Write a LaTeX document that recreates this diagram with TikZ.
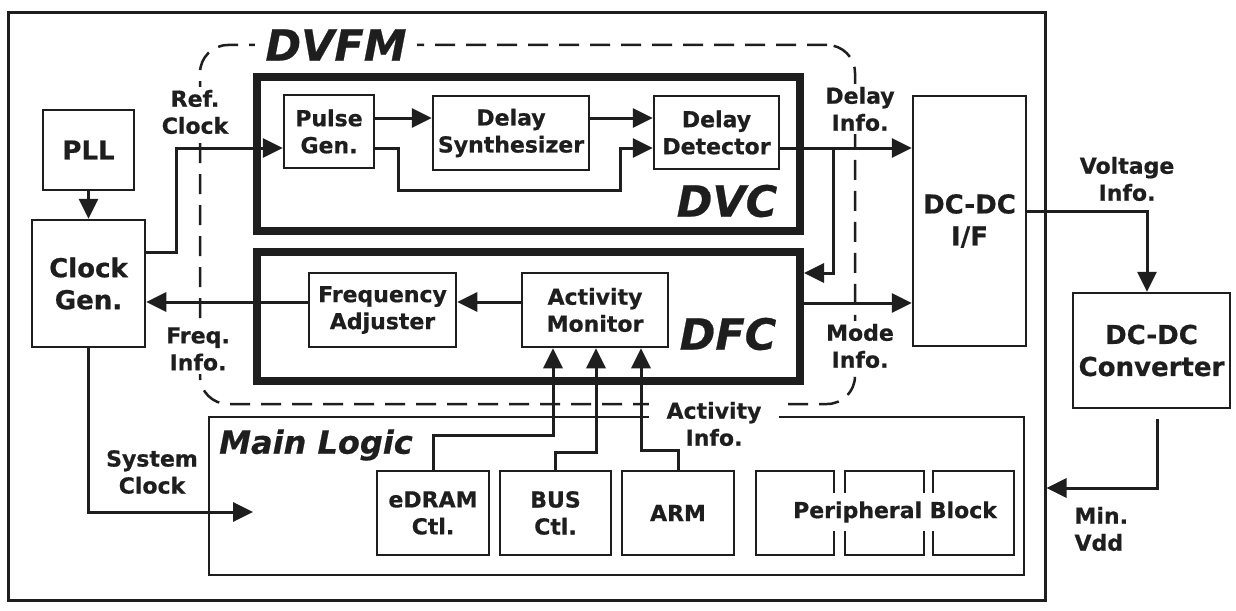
\documentclass[tikz,border=0pt]{standalone}
\usepackage{fontspec}
\setmainfont{DejaVu Sans}[BoldFeatures={FakeBold=0.6},BoldItalicFeatures={FakeBold=0.6}]
\usetikzlibrary{arrows.meta}
\definecolor{ink}{RGB}{30,30,30}
\newcommand\fnormal{\fontsize{22}{27}\selectfont\bfseries}
\newcommand\fbig{\fontsize{26}{32}\selectfont\bfseries}
\newcommand\ftitle{\fontsize{43}{50}\selectfont\bfseries\itshape}
\newcommand\fmain{\fontsize{32}{38}\selectfont\bfseries\itshape}
\begin{document}
\begin{tikzpicture}[x=1pt,y=-1pt,
  every node/.style={text=ink},
  blk/.style={draw=ink, line width=2.5pt, inner sep=0pt, align=center, font=\fnormal},
  heavy/.style={draw=ink, line width=8pt, inner sep=0pt},
  conn/.style={draw=ink, line width=3pt},
  arr/.style={conn, -{Triangle[length=20pt,width=19pt]}},
  tag/.style={align=center, font=\fnormal, fill=white, inner xsep=4pt, inner ysep=3pt},
  ttl/.style={font=\ftitle, inner sep=0pt}
]
\useasboundingbox (0,0) rectangle (1236,610);
\fill[white] (0,0) rectangle (1236,610);
% outer frame
\node[draw=ink, line width=3pt, minimum width=1037, minimum height=587, inner sep=0pt] (outer) at (526.5,306.5) {};
% DVFM dashed region
\node[draw=ink, line width=2.5pt, dash pattern=on 20pt off 11pt, rounded corners=28pt,
      minimum width=655, minimum height=359, inner sep=0pt] (dvfm) at (527.5,224.5) {};
% Main logic
\node[blk, minimum width=815, minimum height=158] (ml) at (616.5,496) {};
\node[font=\fmain, anchor=west, inner sep=0pt] (mlt) at (219,445) {Main Logic};
\node[blk, minimum width=112, minimum height=84] (ed) at (433,513) {eDRAM\\Ctl.};
\node[blk, minimum width=111, minimum height=84] (bus) at (555.5,513) {BUS\\Ctl.};
\node[blk, minimum width=112, minimum height=84] (arm) at (678,513) {ARM};
\node[blk, minimum width=78, minimum height=84] (p1) at (795,513) {};
\node[blk, minimum width=79, minimum height=84] (p2) at (884.5,513) {};
\node[blk, minimum width=81, minimum height=84] (p3) at (973.5,513) {};
\node[font=\fnormal, fill=white, inner xsep=1pt, inner ysep=8pt] (pbt) at (895,512) {Peripheral Block};
% labels interrupting dashed lines
\node[ttl, fill=white, inner xsep=10pt, inner ysep=2pt] (dvfmt) at (336,45) {DVFM};
\node[tag] (refl) at (195,112) {Ref.\\Clock};
\node[tag] (freql) at (198,349) {Freq.\\Info.};
\node[tag] (dell) at (860,109) {Delay\\Info.};
\node[tag] (model) at (860,346) {Mode\\Info.};
\node[tag, inner xsep=18pt, inner ysep=1pt] (actl) at (714,424) {Activity\\Info.};
\node[tag, fill=none] (voltl) at (1127,179) {Voltage\\Info.};
\node[align=left, font=\fnormal, anchor=west] (minl) at (1071,529) {Min.\\Vdd};
\node[tag, fill=none] (sysl) at (152,472) {System\\Clock};
% blocks
\node[blk, font=\fbig, minimum width=91, minimum height=80] (pll) at (88.5,150) {PLL};
\node[blk, font=\fbig, minimum width=113, minimum height=127] (cg) at (88.5,283.5) {Clock\\Gen.};
\node[heavy, minimum width=543, minimum height=154] (dvc) at (528.5,154) {};
\node[heavy, minimum width=543, minimum height=129] (dfc) at (528.5,316.5) {};
\node[ttl] (dvct) at (727,201) {DVC};
\node[ttl] (dfct) at (728,334) {DFC};
\node[blk, minimum width=90, minimum height=73] (pg) at (329,131.5) {Pulse\\Gen.};
\node[blk, minimum width=156, minimum height=74] (ds) at (511,133) {Delay\\Synthesizer};
\node[blk, minimum width=125, minimum height=73] (dd) at (716.5,132.5) {Delay\\Detector};
\node[blk, minimum width=147, minimum height=74] (fa) at (382.5,310) {Frequency\\Adjuster};
\node[blk, minimum width=146, minimum height=74] (am) at (595,310) {Activity\\Monitor};
\node[blk, font=\fbig, minimum width=113, minimum height=250] (ifc) at (969.5,221) {DC-DC\\I/F};
\node[blk, font=\fbig, minimum width=157, minimum height=115] (conv) at (1151.5,350.5) {DC-DC\\Converter};
% connectors
\draw[arr] (pll.south) -- (cg.north);
\coordinate (rc1) at (176,252);
\coordinate (rc2) at (176,148);
\draw[arr] (cg.east |- rc1) -- (rc1) -- (rc2) -- (pg.west |- rc2);
\coordinate (ya) at (0,118);
\draw[arr] (pg.east |- ya) -- (ds.west |- ya);
\draw[arr] (ds.east |- ya) -- (dd.west |- ya);
\coordinate (pl1) at (398,148);
\coordinate (pl2) at (398,190);
\coordinate (pl3) at (620,190);
\coordinate (pl4) at (620,148);
\draw[arr] (pg.east |- pl1) -- (pl1) -- (pl2) -- (pl3) -- (pl4) -- (dd.west |- pl4);
\draw[arr] (dd.east |- pl4) -- (ifc.west |- pl4);
\coordinate (tp1) at (833,148);
\coordinate (tp2) at (833,273);
\draw[arr] (tp1) -- (tp2) -- (dfc.east |- tp2);
\coordinate (ym) at (0,303);
\draw[arr] (dfc.east |- ym) -- (ifc.west |- ym);
\coordinate (yf) at (0,302);
\draw[arr] (am.west |- yf) -- (fa.east |- yf);
\draw[arr] (fa.west |- yf) -- (cg.east |- yf);
\coordinate (v1) at (1147,211);
\draw[arr] (ifc.east |- v1) -- (v1) -- (v1 |- conv.north);
\coordinate (m0) at (1157,419);
\coordinate (m1) at (1157,488);
\draw[arr] (m0) -- (m1) -- (outer.east |- m1);
\coordinate (s1) at (88.5,512);
\coordinate (s2) at (253,512);
\draw[arr] (cg.south) -- (s1) -- (s2);
\coordinate (e1) at (433,435);
\coordinate (e2) at (553,435);
\draw[arr] (ed.north) -- (e1) -- (e2) -- (e2 |- am.south);
\coordinate (b1) at (555.5,452);
\coordinate (b2) at (596,452);
\draw[arr] (bus.north) -- (b1) -- (b2) -- (b2 |- am.south);
\coordinate (a1) at (678,450);
\coordinate (a2) at (641,450);
\draw[arr] (arm.north) -- (a1) -- (a2) -- (a2 |- am.south);
\end{tikzpicture}
\end{document}
